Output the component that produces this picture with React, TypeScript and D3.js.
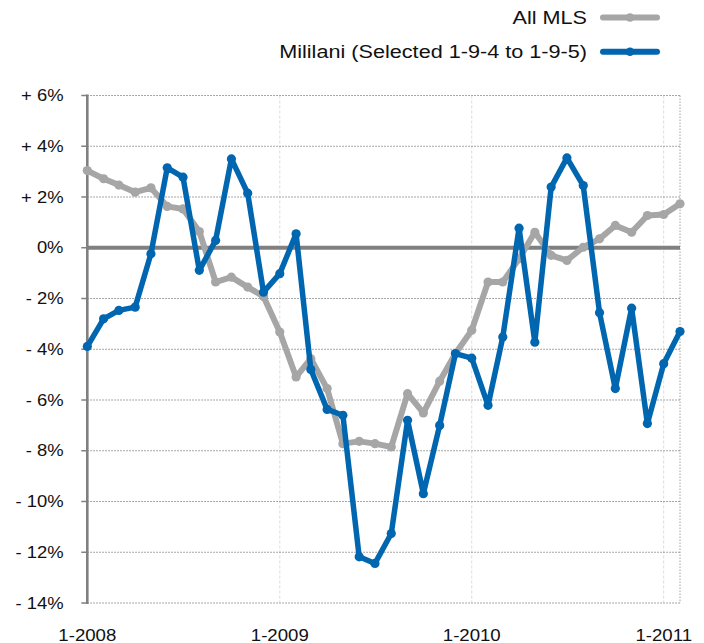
import React from "react";
import * as d3 from "d3";

const months: string[] = [
  "2008-01","2008-02","2008-03","2008-04","2008-05","2008-06","2008-07","2008-08","2008-09","2008-10","2008-11","2008-12",
  "2009-01","2009-02","2009-03","2009-04","2009-05","2009-06","2009-07","2009-08","2009-09","2009-10","2009-11","2009-12",
  "2010-01","2010-02","2010-03","2010-04","2010-05","2010-06","2010-07","2010-08","2010-09","2010-10","2010-11","2010-12",
  "2011-01","2011-02",
];

const allMLS: number[] = [
  3.04, 2.72, 2.47, 2.19, 2.36, 1.63, 1.53, 0.64, -1.35, -1.16, -1.55, -1.92,
  -3.32, -5.09, -4.37, -5.55, -7.72, -7.63, -7.72, -7.85, -5.75, -6.51, -5.26, -4.17,
  -3.25, -1.35, -1.35, -0.43, 0.61, -0.30, -0.50, 0.02, 0.35, 0.88, 0.61, 1.27,
  1.31, 1.73,
];

const mililani: number[] = [
  -3.89, -2.80, -2.47, -2.34, -0.24, 3.15, 2.78, -0.89, 0.29, 3.50, 2.15, -1.75,
  -1.02, 0.55, -4.80, -6.37, -6.60, -12.18, -12.44, -11.26, -6.80, -9.69, -7.00, -4.17,
  -4.35, -6.21, -3.52, 0.77, -3.72, 2.39, 3.54, 2.45, -2.56, -5.55, -2.38, -6.93,
  -4.57, -3.30,
];

const yTicks: number[] = [6, 4, 2, 0, -2, -4, -6, -8, -10, -12, -14];
const xTickLabels: string[] = ["1-2008", "1-2009", "1-2010", "1-2011"];
const seriesNames: string[] = ["All MLS", "Mililani (Selected 1-9-4 to 1-9-5)"];

const W = 704;
const H = 643;
const FONT = "'Liberation Sans', Arial, Helvetica, sans-serif";
const GRAY = "#a6a6a6";
const BLUE = "#0066b0";

function SText(props: {
  x: number;
  y: number;
  sx: number;
  size: number;
  anchor: "start" | "middle" | "end";
  children: React.ReactNode;
}) {
  return (
    <g transform={`translate(${props.x},${props.y}) scale(${props.sx},1)`}>
      <text
        x={0}
        y={0}
        textAnchor={props.anchor}
        dominantBaseline="central"
        fontSize={props.size}
        fill="#111"
      >
        {props.children}
      </text>
    </g>
  );
}

export default function App() {
  const parse = d3.timeParse("%Y-%m");
  const dates = months.map((m) => parse(m) as Date);
  const x = d3
    .scaleTime()
    .domain([dates[0], dates[dates.length - 1]])
    .range([87.3, 680]);
  const y = d3.scaleLinear().domain([-14, 6]).range([603, 95.5]);

  const line = d3
    .line<number>()
    .x((_, i) => x(dates[i]))
    .y((d) => y(d));

  const xTickDates = xTickLabels.map((l) => {
    const [m, yr] = l.split("-");
    return new Date(+yr, +m - 1, 1);
  });

  const series = [
    { name: seriesNames[0], values: allMLS, color: GRAY, width: 6 },
    { name: seriesNames[1], values: mililani, color: BLUE, width: 5.5 },
  ];

  const [x0, x1] = x.range();

  return (
    <svg
      width={W}
      height={H}
      style={{ position: "absolute", left: 0, top: 0, background: "#fff" }}
      fontFamily={FONT}
    >
      {/* vertical gridlines */}
      {xTickDates.slice(1).map((d, i) => (
        <line
          key={"vg" + i}
          x1={x(d)}
          x2={x(d)}
          y1={y(6)}
          y2={y(-14)}
          stroke="#dcdcdc"
          strokeWidth={1}
          strokeDasharray="3,2"
        />
      ))}
      {/* right border */}
      <line x1={x1} x2={x1} y1={y(6)} y2={y(-14)} stroke="#a0a0a0" strokeWidth={1} strokeDasharray="1.5,1.5" />
      {/* horizontal gridlines */}
      {yTicks
        .filter((t) => t !== 0)
        .map((t) => (
          <line
            key={"hg" + t}
            x1={x0}
            x2={x1}
            y1={y(t)}
            y2={y(t)}
            stroke="#8a8a8a"
            strokeWidth={1}
            strokeDasharray="1.5,1.5"
          />
        ))}
      {/* zero line */}
      <line x1={x0} x2={x1} y1={y(0)} y2={y(0)} stroke="#808080" strokeWidth={4} />
      {/* y axis line & ticks */}
      <line x1={x0} x2={x0} y1={y(6) - 1} y2={y(-14) + 1} stroke="#808080" strokeWidth={2.6} />
      {yTicks.map((t) => (
        <g key={"yt" + t}>
          <line x1={x0 - 6} x2={x0} y1={y(t)} y2={y(t)} stroke="#808080" strokeWidth={1.5} />
          <SText x={63.5} y={y(t)} sx={1.13} size={16.3} anchor="end">
            {t > 0 ? `+ ${t}%` : t < 0 ? `- ${Math.abs(t)}%` : "0%"}
          </SText>
        </g>
      ))}
      {/* x labels */}
      {xTickDates.map((d, i) => (
        <SText key={"xl" + i} x={x(d)} y={635} sx={1.15} size={16.2} anchor="middle">
          {xTickLabels[i]}
        </SText>
      ))}
      {/* series */}
      {series.map((s) => (
        <g key={s.name}>
          <path
            d={line(s.values) || ""}
            fill="none"
            stroke={s.color}
            strokeWidth={s.width}
            strokeLinejoin="round"
            strokeLinecap="round"
          />
          {s.values.map((v, i) => (
            <circle key={i} cx={x(dates[i])} cy={y(v)} r={4.6} fill={s.color} />
          ))}
        </g>
      ))}
      {/* legend */}
      {series.map((s, i) => {
        const ly = 17.5 + i * 34.3;
        return (
          <g key={"lg" + i}>
            <SText x={587} y={ly} sx={1.17} size={18.5} anchor="end">
              {s.name}
            </SText>
            <line
              x1={603}
              x2={657}
              y1={ly}
              y2={ly}
              stroke={s.color}
              strokeWidth={6}
              strokeLinecap="round"
            />
            <circle cx={630} cy={ly} r={4.3} fill={s.color} />
          </g>
        );
      })}
    </svg>
  );
}
